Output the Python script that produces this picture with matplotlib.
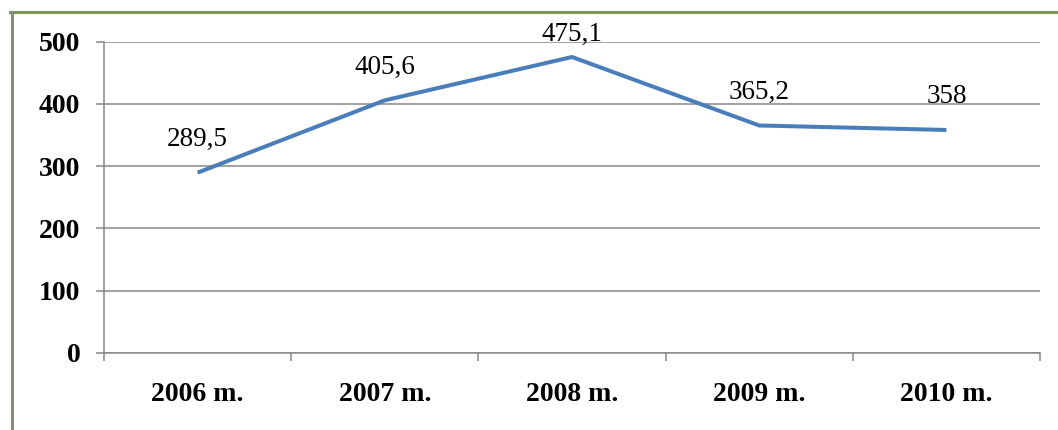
import numpy as np
import matplotlib
matplotlib.use('Agg')
from matplotlib import pyplot as plt
from matplotlib.lines import Line2D

years = ['2006 m.', '2007 m.', '2008 m.', '2009 m.', '2010 m.']
values = [289.5, 405.6, 475.1, 365.2, 358]
value_labels = ['289,5', '405,6', '475,1', '365,2', '358']
yticks = [0, 100, 200, 300, 400, 500]

plt.rcParams['font.family'] = 'Liberation Serif'

W, H = 1058, 430
ax_top, ax_bot = 41.5, 353
fig = plt.figure(figsize=(W / 100, H / 100), dpi=100)
ax = fig.add_axes([104 / W, (H - ax_bot) / H, (1040 - 104) / W, (ax_bot - ax_top) / H])

x = np.arange(len(values))
ax.plot(x, values, color='#4a7ebb', lw=2.9, solid_capstyle='butt', zorder=3)
for xi, v, lab in zip(x, values, value_labels):
    # label sits ~33px above the point, but is kept inside the chart area
    py = ax_top + (500 - v) / 500 * (ax_bot - ax_top)
    off_px = min(33, py - 34)
    ax.annotate(lab, (xi, v), xytext=(0, off_px * 0.72), textcoords='offset points',
                ha='center', va='center', fontsize=19.5, color='black')

ax.set_xlim(-0.5, len(values) - 0.5)
ax.set_ylim(0, 500)

ax.set_yticks(yticks)
ax.yaxis.grid(True, color='#878787', lw=1.1)
ax.set_axisbelow(True)
ax.set_yticklabels([str(t) for t in yticks], fontsize=20, fontweight='bold')
ax.tick_params(axis='y', length=6, width=1.1, color='#878787', pad=11)

ax.set_xticks(x)
ax.set_xticklabels(years, fontsize=20, fontweight='bold')
ax.set_xticks(np.arange(-0.5, len(values)), minor=True)
ax.tick_params(axis='x', which='major', length=0, pad=21)
ax.tick_params(axis='x', which='minor', length=6, width=1.1, color='#878787')

for s in ['top', 'right']:
    ax.spines[s].set_visible(False)
for s in ['left', 'bottom']:
    ax.spines[s].set_color('#878787')
    ax.spines[s].set_linewidth(1.1)

# outer frame (top and left edges)
fig.add_artist(Line2D([10 / W, 1], [1 - 12 / H, 1 - 12 / H], transform=fig.transFigure,
                      color='#7f9456', lw=2.2))
fig.add_artist(Line2D([11.5 / W, 11.5 / W], [0, 1 - 12 / H], transform=fig.transFigure,
                      color='#8a8c84', lw=2.2))

fig.savefig('out.png', dpi=100)
